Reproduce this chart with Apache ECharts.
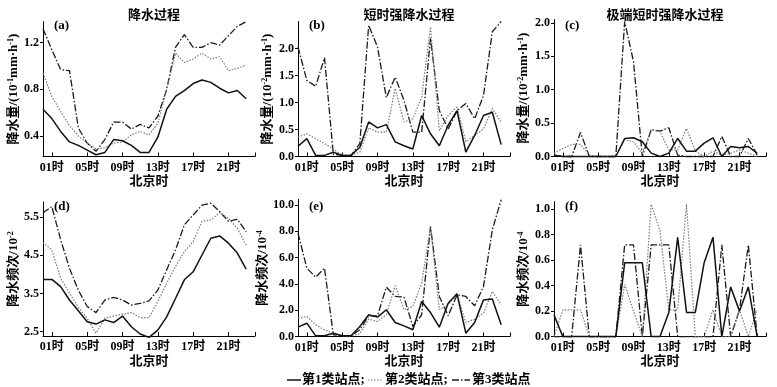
<!DOCTYPE html>
<html><head><meta charset="utf-8">
<script src="https://cdn.jsdelivr.net/npm/echarts@6/dist/echarts.min.js"></script>
<style>html,body{margin:0;padding:0;background:#fff}#c{width:777px;height:387px}</style>
</head><body><div id="c"></div>
<script>
const hours = [0,1,2,3,4,5,6,7,8,9,10,11,12,13,14,15,16,17,18,19,20,21,22,23];
const tickHours = [1,5,9,13,17,21];
const tickLabels = ['01时','05时','09时','13时','17时','21时'];
const seriesNames = ['第1类站点','第2类站点','第3类站点'];
const panelTitles = ['降水过程','短时强降水过程','极端短时强降水过程'];
const panelTags = ['(a)','(b)','(c)','(d)','(e)','(f)'];

// (a) precipitation amount, 10^-1 mm/h
const a1 = [0.63,0.55,0.44,0.35,0.32,0.28,0.24,0.26,0.37,0.36,0.32,0.26,0.26,0.39,0.63,0.74,0.79,0.85,0.88,0.86,0.81,0.77,0.79,0.72];
const a2 = [0.94,0.74,0.61,0.49,0.40,0.34,0.29,0.30,0.34,0.35,0.41,0.44,0.41,0.51,0.80,1.11,1.03,1.06,1.11,1.06,1.08,0.96,0.98,1.01];
const a3 = [1.32,1.14,0.97,0.96,0.47,0.34,0.27,0.37,0.52,0.52,0.46,0.50,0.47,0.57,0.80,1.16,1.27,1.16,1.16,1.20,1.18,1.26,1.34,1.38];
// (b) short-duration heavy precipitation amount, 10^-2 mm/h
const b1 = [0.19,0.33,0.02,0.02,0.08,0.02,0.02,0.17,0.64,0.53,0.59,0.27,0.20,0.14,0.76,0.42,0.20,0.58,0.85,0.08,0.39,0.76,0.82,0.22];
const b2 = [0.36,0.42,0.33,0.24,0.14,0.02,0.02,0.08,0.53,0.45,0.45,1.26,0.64,0.70,1.10,2.40,0.48,0.76,0.92,0.27,0.39,0.51,0.89,0.64];
const b3 = [2.03,1.41,1.30,1.83,0.04,0.02,0.02,0.24,2.43,2.03,1.09,1.47,1.04,0.45,0.45,2.19,0.85,0.51,0.85,0.98,0.70,1.13,2.31,2.50];
// (c) extreme short-duration heavy precipitation amount, 10^-2 mm/h
const c1 = [0.02,0,0,0,0,0,0,0,0.27,0.28,0.22,0.05,0,0.05,0.27,0.08,0.08,0.20,0.28,0,0.15,0.13,0.15,0.05];
const c2 = [0.05,0.12,0.18,0.18,0.02,0,0,0,0.25,0.22,0.05,0.40,0.37,0.10,0.10,0.42,0.08,0,0.08,0.02,0.05,0.10,0.05,0];
const c3 = [0.02,0,0,0.36,0,0,0,0,2.02,1.42,0,0.40,0.38,0.43,0.02,0,0,0,0,0.30,0,0,0.27,0.02];
// (d) precipitation frequency, 10^-2
const d1 = [3.87,3.87,3.68,3.33,3.05,2.76,2.70,2.81,2.74,2.91,2.63,2.44,2.35,2.54,2.89,3.37,3.86,4.07,4.51,4.95,5.01,4.82,4.56,4.14];
const d2 = [4.84,4.64,3.90,3.51,3.14,2.85,2.46,2.85,2.91,2.96,3.00,2.87,2.87,3.29,3.77,4.21,4.60,4.86,5.39,5.43,5.62,5.47,5.21,4.77];
const d3 = [5.62,5.78,4.91,4.16,3.59,3.16,3.00,3.33,3.40,3.33,3.20,3.24,3.31,3.59,4.12,4.64,5.30,5.56,5.82,5.87,5.65,5.39,5.45,5.12];
// (e) short-duration heavy precipitation frequency, 10^-4
const e1 = [0.71,1.01,0.05,0.05,0.25,0.05,0.05,0.76,1.65,1.47,2.03,1.06,0.81,0.51,2.66,1.82,0.71,2.53,3.24,0.25,1.06,2.78,2.84,0.89];
const e2 = [1.39,1.52,0.89,0.51,0.25,0.05,0.05,0.20,1.32,1.14,1.65,3.85,2.03,2.28,4.05,8.35,2.03,2.41,3.24,1.06,1.32,1.77,3.42,2.41];
const e3 = [7.85,5.19,4.51,5.19,0.13,0.05,0.05,0.51,1.57,1.57,3.75,3.04,2.99,0.76,1.65,8.35,3.04,1.57,3.16,3.04,2.33,3.80,8.10,10.38];
// (f) extreme short-duration heavy precipitation frequency, 10^-4
const f1 = [0.17,0,0,0,0,0,0,0,0.58,0.58,0.58,0,0,0.19,0.78,0.19,0.19,0.58,0.78,0,0.39,0.20,0.39,0];
const f2 = [0,0.21,0.21,0.21,0,0,0,0,0.41,0.20,0,1.04,0.83,0.21,0.21,1.04,0,0,0.21,0,0,0.21,0,0.21];
const f3 = [0,0,0,0.72,0,0,0,0,0.72,0.72,0,0.72,0.72,0.72,0,0,0,0,0,0.72,0,0.21,0.72,0];

const panelData = [[a1,a2,a3],[b1,b2,b3],[c1,c2,c3],[d1,d2,d3],[e1,e2,e3],[f1,f2,f3]];
const yLabelValues = [[0.4,0.8,1.2],[0,0.5,1.0,1.5,2.0],[0,0.5,1.0,1.5,2.0],[2.5,3.5,4.5,5.5],[0,2,4,6,8,10],[0,0.2,0.4,0.6,0.8,1.0]];
const yRanges = [[0.225,1.38],[0,2.5],[0,2.05],[2.387,5.9],[0,10.4],[0,1.06]];
const yNames = ['降水量/(10{s|-1}mm·h{s|-1})','降水量/(10{s|-2}mm·h{s|-1})','降水量/(10{s|-2}mm·h{s|-1})','降水频次/10{s|-2}','降水频次/10{s|-4}','降水频次/10{s|-4}'];

const lefts = [43,298,554];
const gridW = 212;
const grids = [
  {left:43, top:21.7, width:gridW, height:134.8},
  {left:298, top:21.5, width:gridW, height:135},
  {left:554, top:19.5, width:gridW, height:137},
  {left:43, top:202, width:gridW, height:134},
  {left:298, top:199.5, width:gridW, height:137},
  {left:554, top:201.6, width:gridW, height:135}
];
const FONT = '"Liberation Serif","Noto Sans CJK SC",serif';
const lineStyles = [
  {color:'#111', width:1.5, type:'solid'},
  {color:'#7a7a7a', width:1.2, type:[1.5,1.5]},
  {color:'#1a1a1a', width:1.3, type:[7,2,1.5,2]}
];

const xAxes = [], yAxes = [], series = [];
for (let p = 0; p < 6; p++) {
  xAxes.push({
    type:'value', gridIndex:p, min:0, max:24,
    axisLine:{show:true, onZero:false, lineStyle:{color:'#000', width:1}},
    axisTick:{show:true, inside:true, length:4, customValues:[1,5,9,13,17,21,24], lineStyle:{color:'#000'}},
    axisLabel:{customValues:tickHours, margin:5, color:'#000', fontSize:12, fontWeight:'bold', fontFamily:FONT,
      formatter:v => tickLabels[tickHours.indexOf(v)] || ''},
    splitLine:{show:false},
    name:'北京时', nameLocation:'middle', nameGap:19,
    nameTextStyle:{color:'#000', fontSize:13, fontWeight:'bold', fontFamily:FONT}
  });
  yAxes.push({
    type:'value', gridIndex:p, min:yRanges[p][0], max:yRanges[p][1],
    axisLine:{show:true, onZero:false, lineStyle:{color:'#000', width:1}},
    axisTick:{show:true, inside:false, length:3, customValues:yLabelValues[p], lineStyle:{color:'#000'}},
    axisLabel:{customValues:yLabelValues[p], margin:4, color:'#000', fontSize:12, fontWeight:'bold', fontFamily:FONT,
      formatter:v => v.toFixed(1)},
    splitLine:{show:false},
    name:yNames[p], nameLocation:'middle', nameGap:p%3===0 ? 22 : 24,
    nameTextStyle:{color:'#000', fontSize:13, fontWeight:'bold', fontFamily:FONT,
      rich:{s:{fontSize:8, fontWeight:'bold', verticalAlign:'top', fontFamily:FONT, color:'#000'}}}
  });
  for (let s = 0; s < 3; s++) {
    series.push({
      type:'line', name:seriesNames[s], xAxisIndex:p, yAxisIndex:p,
      data:hours.map((h,i) => [h, panelData[p][s][i]]),
      symbol:'none', smooth:false, clip:false,
      lineStyle:lineStyles[s], itemStyle:{color:lineStyles[s].color},
      z: 3 - s
    });
  }
}

const titles = [];
for (let c = 0; c < 3; c++) {
  titles.push({text:panelTitles[c], left:lefts[c] + gridW/2, top:4, textAlign:'center',
    textStyle:{fontSize:13, fontWeight:'bold', color:'#000', fontFamily:FONT}});
}
for (let p = 0; p < 6; p++) {
  titles.push({text:panelTags[p], left:lefts[p%3] + 6, top:p < 3 ? 14 : 195,
    textStyle:{fontSize:13, fontWeight:'bold', color:'#000', fontFamily:FONT}});
}

// legend drawn as graphic (line samples + labels)
const legendIconX = [287, 368, 452];
const legendIconW = [14, 15, 18];
const legendTextX = [302, 385, 472];
const legendY = 380;
const graphics = [];
for (let s = 0; s < 3; s++) {
  const ls = lineStyles[s];
  graphics.push({type:'line', shape:{x1:legendIconX[s], y1:legendY, x2:legendIconX[s]+legendIconW[s], y2:legendY},
    style:{stroke:ls.color, lineWidth:ls.width, lineDash:Array.isArray(ls.type) ? ls.type : null}});
  graphics.push({type:'text', x:legendTextX[s], y:legendY,
    style:{text: s < 2 ? seriesNames[s] + ';' : seriesNames[s], fill:'#000',
      font:'bold 13px ' + FONT, verticalAlign:'middle', align:'left'}});
}

const chart = echarts.init(document.getElementById('c'), null, {renderer:'canvas'});
chart.setOption({
  backgroundColor:'#fff',
  animation:false,
  title:titles,
  grid:grids,
  xAxis:xAxes,
  yAxis:yAxes,
  series:series,
  graphic:graphics
});
</script></body></html>
